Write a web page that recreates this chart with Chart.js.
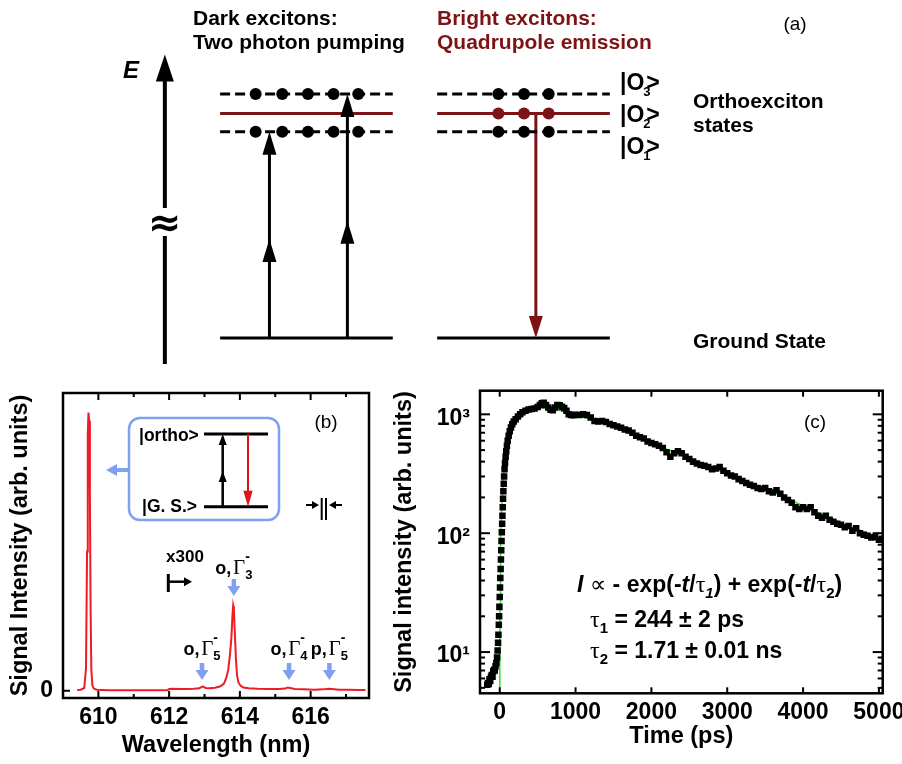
<!DOCTYPE html>
<html>
<head>
<meta charset="utf-8">
<script src="https://cdn.jsdelivr.net/npm/chart.js@4.4.1/dist/chart.umd.min.js"></script>
<style>
  html, body { margin: 0; padding: 0; background: #fff; }
  #wrap { position: relative; width: 902px; height: 764px; overflow: hidden; }
  canvas { position: absolute; }
  #cA { left: 0; top: 0; }
  #cB { left: 0; top: 375px; }
  #cC { left: 380px; top: 375px; }
</style>
</head>
<body>
<div id="wrap">
  <canvas id="cA" width="902" height="370"></canvas>
  <canvas id="cB" width="380" height="389"></canvas>
  <canvas id="cC" width="522" height="389"></canvas>
</div>
<script>
// ---------- panel (a): level scheme ----------
const levelE = [0, 213, 232, 252];        // ground, |O1>, |O2>, |O3>
const levelSub = ['', '1', '2', '3'];
const darkX = [217, 392];
const brightX = [437, 612];
const darkDots = [253, 280, 306, 332, 357];
const brightDots = [499, 525, 550];
const pumpX = [267, 346];
const pumpLevel = [1, 3];
const emitX = 537;
const axisX = 161;
const axisE = [-27, 293];

// ---------- panel (b): emission spectrum ----------
const wavelength = [609.40, 609.50, 609.60, 609.65, 609.68, 609.70, 609.72, 609.74, 609.76, 609.78,
  609.80, 609.83, 609.87, 609.95, 610.10, 610.30, 610.60, 611.00, 611.50, 611.95,
  612.00, 612.10, 612.30, 612.50, 612.70, 612.85, 612.92, 612.97, 613.03, 613.15,
  613.30, 613.45, 613.55, 613.62, 613.67, 613.72, 613.76, 613.79, 613.81, 613.83,
  613.86, 613.89, 613.92, 613.96, 614.02, 614.10, 614.25, 614.50, 614.80, 615.10,
  615.28, 615.35, 615.42, 615.55, 615.80, 616.10, 616.35, 616.50, 616.60, 616.80,
  617.10, 617.30, 617.55];
const intensity = [0.3, 0.4, 1.0, 8, 50, 92, 100, 97, 70, 30,
  8, 2, 0.8, 0.4, 0.3, 0.2, 0.2, 0.15, 0.15, 0.15,
  0.6, 0.7, 0.6, 0.6, 0.7, 0.9, 1.4, 1.5, 1.0, 0.9,
  1.1, 1.6, 2.6, 4.8, 7.5, 13, 19, 27, 30.5, 29,
  20, 11, 5.5, 3.0, 1.8, 1.2, 0.9, 0.7, 0.6, 0.6,
  0.8, 1.2, 1.0, 0.6, 0.5, 0.4, 0.5, 0.7, 0.6, 0.4,
  0.4, 0.3, 0.3];
const wlTicks = [610, 612, 614, 616];
const peakName = ['o', 'o', 'o', 'p'];
const peakSub = ['5', '3', '4', '5'];
const peakWl = [612.93, 613.83, 615.39, 616.53];

// ---------- panel (c): time-resolved signal ----------
const timePs = [-165, -155, -145, -135, -125, -115, -105, -95, -85, -75, -65, -55, -45, -35, -28, -22, -17, -12, -8, -4,
  0, 4, 8, 12, 16, 20, 24, 28, 32, 36, 40, 44, 48, 53, 58, 64, 70, 78, 86, 95,
  105, 118, 132, 148, 165, 185, 210, 240, 270, 300, 340, 380, 420, 460, 500, 530, 555, 580, 610, 640,
  670, 700, 730, 760, 790, 820, 850, 880, 910, 940, 970, 1000, 1050, 1100, 1150, 1200, 1250, 1300, 1350, 1400,
  1450, 1500, 1550, 1600, 1650, 1700, 1750, 1800, 1850, 1900, 1950, 2000, 2050, 2100, 2150, 2200, 2250, 2300, 2350, 2400,
  2450, 2500, 2550, 2600, 2650, 2700, 2750, 2800, 2850, 2900, 2950, 3000, 3050, 3100, 3150, 3200, 3250, 3300, 3350, 3400,
  3450, 3500, 3550, 3600, 3650, 3700, 3750, 3800, 3850, 3900, 3950, 4000, 4050, 4100, 4150, 4200, 4250, 4300, 4350, 4400,
  4450, 4500, 4550, 4600, 4650, 4700, 4750, 4800, 4850, 4900, 4950, 5000, 5040];
const signal = [5.3, 5.5, 5.4, 5.9, 5.7, 6.2, 6.4, 6.2, 6.9, 7.1, 7.0, 7.6, 8.1, 9.0, 10.3, 12, 14, 17, 20, 24,
  29, 35, 42, 50, 60, 72, 86, 102, 120, 140, 165, 195, 225, 260, 300, 345, 390, 440, 490, 545,
  600, 660, 720, 775, 825, 870, 910, 960, 1000, 1040, 1070, 1100, 1110, 1120, 1150, 1200, 1240, 1250, 1200, 1140,
  1090, 1080, 1140, 1200, 1190, 1160, 1130, 1070, 1000, 985, 980, 990, 985, 1000, 985, 940, 880, 870, 880, 860,
  830, 810, 790, 770, 745, 730, 700, 660, 640, 625, 590, 575, 560, 545, 520, 480, 440, 470, 490, 470,
  440, 420, 400, 385, 375, 370, 360, 345, 350, 360, 335, 320, 305, 300, 285, 275, 265, 255, 250, 240,
  235, 240, 225, 220, 230, 215, 200, 190, 180, 165, 160, 165, 160, 165, 150, 140, 135, 140, 130, 125,
  120, 118, 112, 115, 105, 110, 100, 97, 95, 92, 93, 88, 90];
const fitT = [0.5, 1, 2, 4, 8, 15, 25, 40, 60, 90, 130, 180, 250, 350, 450, 554, 700, 1000, 1500, 2000, 2500, 3000, 3500, 4000, 4500, 5000, 5050];
const fitI = [3.2, 6.4, 12.8, 25.5, 50.5, 93, 152, 234, 336, 471, 622, 772, 924, 1055, 1117, 1135, 1111, 990, 790, 575, 425, 318, 236, 170, 122, 92, 90];
const timeTicks = [0, 1000, 2000, 3000, 4000, 5000];
const decadeTicks = [10, 100, 1000];

const SANS = '"Liberation Sans", Arial, "DejaVu Sans", sans-serif';
const SERIF = '"Liberation Serif", "DejaVu Serif", serif';
const DARKRED = '#7d1315';
const BLUE = '#80a0f0';
const tickFont = { family: SANS, size: 23, weight: 'bold' };
const titleFont = { family: SANS, size: 23.5, weight: 'bold' };

// small drawing helpers
function headV(ctx, x, yTip, dir, hw, h, color) { // dir -1 up, 1 down
  ctx.beginPath();
  ctx.moveTo(x, yTip);
  ctx.lineTo(x - hw, yTip - dir * h);
  ctx.lineTo(x + hw, yTip - dir * h);
  ctx.closePath();
  ctx.fillStyle = color;
  ctx.fill();
}
function headH(ctx, xTip, y, dir, hw, h, color) { // dir -1 left, 1 right
  ctx.beginPath();
  ctx.moveTo(xTip, y);
  ctx.lineTo(xTip - dir * h, y - hw);
  ctx.lineTo(xTip - dir * h, y + hw);
  ctx.closePath();
  ctx.fillStyle = color;
  ctx.fill();
}
function line(ctx, x0, y0, x1, y1, w, color) {
  ctx.beginPath();
  ctx.moveTo(x0, y0);
  ctx.lineTo(x1, y1);
  ctx.lineWidth = w;
  ctx.strokeStyle = color;
  ctx.stroke();
}
function txt(ctx, s, x, y, font, color, align) {
  ctx.font = font;
  ctx.fillStyle = color || '#000';
  ctx.textAlign = align || 'left';
  ctx.textBaseline = 'alphabetic';
  ctx.fillText(s, x, y);
}
// parts: [text, font, dy, advance?]
function runs(ctx, x, y, parts, color) {
  ctx.fillStyle = color || '#000';
  ctx.textAlign = 'left';
  ctx.textBaseline = 'alphabetic';
  parts.forEach(p => {
    ctx.font = p[1];
    ctx.fillText(p[0], x, y + (p[2] || 0));
    if (p[3] !== false) x += ctx.measureText(p[0]).width;
  });
  return x;
}
function widthOf(ctx, parts) {
  let w = 0;
  parts.forEach(p => { ctx.font = p[1]; if (p[3] !== false) w += ctx.measureText(p[0]).width; });
  return w;
}
function ket(ctx, x, y, sub) {
  let xe = runs(ctx, x, y, [['|O', 'bold 23px ' + SANS]]);
  txt(ctx, sub, xe - 1, y + 6, 'bold 13px ' + SANS);
  txt(ctx, '>', xe + 2, y, 'bold 23px ' + SANS);
}

// ---------- panel (a) ----------
function level(x, e, color, dash) {
  return { data: [{ x: x[0], y: e }, { x: x[1], y: e }], borderColor: color, borderWidth: 3,
    borderDash: dash ? [10, 5] : [], pointRadius: 0, showLine: true };
}
function shaft(x, e0, e1, color, w) {
  return { data: [{ x: x, y: e0 }, { x: x, y: e1 }], borderColor: color, borderWidth: w || 3,
    pointRadius: 0, showLine: true };
}
const dotsBlack = [];
darkDots.forEach(x => { dotsBlack.push({ x, y: levelE[3] }, { x, y: levelE[1] }); });
brightDots.forEach(x => { dotsBlack.push({ x, y: levelE[3] }, { x, y: levelE[1] }); });
const dotsRed = brightDots.map(x => ({ x, y: levelE[2] }));

const datasetsA = [
  { data: dotsBlack, pointRadius: 6, backgroundColor: '#000', borderWidth: 0, showLine: false },
  { data: dotsRed, pointRadius: 6, backgroundColor: DARKRED, borderWidth: 0, showLine: false },
  level(darkX, levelE[3], '#000', true),
  level(darkX, levelE[2], DARKRED, false),
  level(darkX, levelE[1], '#000', true),
  level(darkX, levelE[0], '#000', false),
  level(brightX, levelE[3], '#000', true),
  level(brightX, levelE[2], DARKRED, false),
  level(brightX, levelE[1], '#000', true),
  level(brightX, levelE[0], '#000', false),
  shaft(emitX, levelE[2], levelE[0] + 10, DARKRED),
  shaft(axisX, axisE[0], axisE[1] - 15, '#000', 4)
];
pumpX.forEach((x, i) => datasetsA.push(shaft(x, levelE[0], levelE[pumpLevel[i]] - 10, '#000')));

const drawA = {
  id: 'drawA',
  afterDatasetsDraw(chart) {
    const ctx = chart.ctx;
    const px = v => chart.scales.x.getPixelForValue(v);
    const py = v => chart.scales.y.getPixelForValue(v);
    ctx.save();
    // arrow heads
    headV(ctx, px(axisX), py(axisE[1]), -1, 9, 27, '#000');
    pumpX.forEach((x, i) => {
      const e = levelE[pumpLevel[i]];
      headV(ctx, px(x), py(e), -1, 7, 23, '#000');
      headV(ctx, px(x), py(e * 0.48), -1, 7, 23, '#000');
    });
    headV(ctx, px(emitX), py(levelE[0]), 1, 7, 22, DARKRED);
    // axis break
    ctx.fillStyle = '#fff';
    ctx.fillRect(px(axisX) - 4, 208, 8, 28);
    txt(ctx, '\u2248', px(axisX), 236, 'bold 40px "DejaVu Sans", sans-serif', '#000', 'center');
    txt(ctx, 'E', 123, 78, 'italic bold 24px ' + SANS);
    // headings
    const f21 = 'bold 21px ' + SANS;
    txt(ctx, 'Dark excitons:', 193, 25, f21);
    txt(ctx, 'Two photon pumping', 193, 49, f21);
    txt(ctx, 'Bright excitons:', 437, 25, f21, DARKRED);
    txt(ctx, 'Quadrupole emission', 437, 49, f21, DARKRED);
    txt(ctx, '(a)', 795, 30, '19px ' + SANS, '#000', 'center');
    // level labels
    ket(ctx, 620, 90, levelSub[3]);
    ket(ctx, 620, 122, levelSub[2]);
    ket(ctx, 620, 154, levelSub[1]);
    txt(ctx, 'Orthoexciton', 693, 108, f21);
    txt(ctx, 'states', 693, 132, f21);
    txt(ctx, 'Ground State', 693, py(levelE[0]) + 10, f21);
    ctx.restore();
  }
};

new Chart(document.getElementById('cA'), {
  type: 'scatter',
  data: { datasets: datasetsA },
  options: {
    responsive: false, animation: false, events: [],
    layout: { padding: 0 },
    plugins: { legend: { display: false }, tooltip: { enabled: false } },
    scales: {
      x: { type: 'linear', min: 0, max: 902, display: false },
      y: { type: 'linear', min: -27, max: 343, display: false }
    }
  },
  plugins: [drawA]
});

// ---------- panel (b) ----------
const drawB = {
  id: 'drawB',
  afterDatasetsDraw(chart) {
    const ctx = chart.ctx, a = chart.chartArea;
    const xs = chart.scales.x, ys = chart.scales.y;
    ctx.save();
    ctx.lineWidth = 2.5;
    ctx.strokeStyle = '#000';
    ctx.strokeRect(a.left, a.top, a.right - a.left, a.bottom - a.top);
    for (let w = 610; w <= 617; w++) {
      const x = xs.getPixelForValue(w), len = w % 2 === 0 ? 7 : 4;
      line(ctx, x, a.bottom, x, a.bottom - len, 2, '#000');
      line(ctx, x, a.top, x, a.top + len, 2, '#000');
    }
    const y0 = ys.getPixelForValue(0);
    line(ctx, a.left, y0, a.left + 7, y0, 2, '#000');

    // inset level scheme
    ctx.beginPath();
    ctx.roundRect(129, 43, 150, 102, 11);
    ctx.lineWidth = 2.5;
    ctx.strokeStyle = BLUE;
    ctx.stroke();
    line(ctx, 129, 95, 116, 95, 4, BLUE);
    headH(ctx, 106, 95, -1, 6, 11, BLUE);
    line(ctx, 204, 59, 268, 59, 3, '#000');
    line(ctx, 204, 131.7, 268, 131.7, 3, '#000');
    txt(ctx, '|ortho>', 139, 66, 'bold 17.5px ' + SANS);
    txt(ctx, '|G. S.>', 142, 137, 'bold 17.5px ' + SANS);
    line(ctx, 222.7, 131.7, 222.7, 66, 2.5, '#000');
    headV(ctx, 222.7, 59, -1, 4, 11, '#000');
    headV(ctx, 222.7, 96, -1, 4, 11, '#000');
    line(ctx, 248, 59, 248, 118, 2, '#e0141e');
    headV(ctx, 248, 131.7, 1, 4.7, 16, '#e0141e');

    txt(ctx, '(b)', 326, 53, '19px ' + SANS, '#000', 'center');
    // resolution mark
    line(ctx, 321.7, 123, 321.7, 145, 2, '#000');
    line(ctx, 326, 123, 326, 145, 2, '#000');
    line(ctx, 306, 130, 313, 130, 2, '#000');
    headH(ctx, 319, 130, 1, 4, 7, '#000');
    line(ctx, 342, 130, 335, 130, 2, '#000');
    headH(ctx, 329, 130, -1, 4, 7, '#000');

    // x300 marker
    txt(ctx, 'x300', 185, 186.7, 'bold 17px ' + SANS, '#000', 'center');
    line(ctx, 168.3, 199, 168.3, 217, 3, '#000');
    line(ctx, 168.3, 206.7, 184, 206.7, 2.5, '#000');
    headH(ctx, 192, 206.7, 1, 4.5, 8, '#000');

    // peak labels
    peakWl.forEach((w, i) => {
      const x = xs.getPixelForValue(w);
      const high = i === 1;
      const base = high ? 199 : 280;
      const top = high ? 204 : 288;
      line(ctx, x, top, x, top + 8, 4.5, BLUE);
      headV(ctx, x, top + 17, 1, 6.5, 10, BLUE);
      const parts = [[peakName[i] + ',', 'bold 18px ' + SANS], [' ', '6px ' + SANS],
        ['\u0393', '21px ' + SERIF], ['-', 'bold 14px ' + SANS, -13, false], [peakSub[i], 'bold 13px ' + SANS, 5]];
      runs(ctx, x - widthOf(ctx, parts) / 2, base, parts);
    });
    ctx.restore();
  }
};

new Chart(document.getElementById('cB'), {
  type: 'line',
  data: { datasets: [{ data: wavelength.map((w, i) => ({ x: w, y: intensity[i] })),
    borderColor: '#ee1c25', borderWidth: 2, pointRadius: 0, tension: 0 }] },
  options: {
    responsive: false, animation: false, events: [],
    layout: { padding: { top: 18, right: 11, left: 0, bottom: 0 } },
    plugins: { legend: { display: false }, tooltip: { enabled: false } },
    scales: {
      x: {
        type: 'linear', min: 609.0, max: 617.65,
        afterBuildTicks: s => { s.ticks = wlTicks.map(v => ({ value: v })); },
        ticks: { font: tickFont, color: '#000', padding: 6, maxRotation: 0, autoSkip: false, callback: v => String(v) },
        grid: { display: false, drawTicks: false }, border: { display: false },
        title: { display: true, text: 'Wavelength (nm)', font: titleFont, color: '#000', padding: { top: 0, bottom: 4 } },
        afterFit: s => { s.height = 66; s.paddingLeft = 0; s.paddingRight = 0; }
      },
      y: {
        type: 'linear', min: -2.6, max: 107,
        afterBuildTicks: s => { s.ticks = [{ value: 0 }]; },
        ticks: { font: tickFont, color: '#000', padding: 10, callback: v => String(v) },
        grid: { display: false, drawTicks: false }, border: { display: false },
        title: { display: true, text: 'Signal Intensity (arb. units)', font: titleFont, color: '#000', padding: { top: 6, bottom: 0 } },
        afterFit: s => { s.width = 63; s.paddingTop = 0; s.paddingBottom = 0; }
      }
    }
  },
  plugins: [drawB]
});

// ---------- panel (c) ----------
const SUP = { 10: '10\u00b9', 100: '10\u00b2', 1000: '10\u00b3' };
const drawC = {
  id: 'drawC',
  afterDatasetsDraw(chart) {
    const ctx = chart.ctx, a = chart.chartArea;
    const xs = chart.scales.x, ys = chart.scales.y;
    ctx.save();
    ctx.lineWidth = 2.5;
    ctx.strokeStyle = '#000';
    ctx.strokeRect(a.left, a.top, a.right - a.left, a.bottom - a.top);
    timeTicks.forEach(t => {
      const x = xs.getPixelForValue(t);
      line(ctx, x, a.bottom, x, a.bottom - 6, 2, '#000');
      line(ctx, x, a.top, x, a.top + 6, 2, '#000');
    });
    [1, 10, 100, 1000].forEach(d => {
      for (let k = 1; k <= 9; k++) {
        const v = d * k;
        if (v < ys.min || v > ys.max) continue;
        const y = ys.getPixelForValue(v), len = k === 1 ? 10 : 5;
        line(ctx, a.left, y, a.left + len, y, 2, '#000');
        line(ctx, a.right, y, a.right - len, y, 2, '#000');
      }
    });
    txt(ctx, '(c)', 435, 53, '19px ' + SANS, '#000', 'center');
    const B = 'bold 23px ' + SANS, BI = 'italic bold 23px ' + SANS, G = '24px ' + SERIF;
    const S = 'bold 15px ' + SANS, SI = 'italic bold 15px ' + SANS;
    runs(ctx, 197, 217, [['I', BI], [' ', B], ['\u221d', '23px "DejaVu Sans", sans-serif'], [' - exp(-', B], ['t', BI], ['/', B],
      ['\u03c4', G], ['1', SI, 6], [') + exp(-', B], ['t', BI], ['/', B], ['\u03c4', G], ['2', S, 6], [')', B]]);
    runs(ctx, 210, 252, [['\u03c4', G], ['1', S, 6], [' = 244 \u00b1 2 ps', B]]);
    runs(ctx, 210, 283, [['\u03c4', G], ['2', S, 6], [' = 1.71 \u00b1 0.01 ns', B]]);
    ctx.restore();
  }
};

new Chart(document.getElementById('cC'), {
  type: 'line',
  data: { datasets: [
    { data: timePs.map((t, i) => ({ x: t, y: signal[i] })), showLine: false,
      pointStyle: 'rect', pointRadius: 4.6, backgroundColor: '#000', borderWidth: 0 },
    { data: fitT.map((t, i) => ({ x: t, y: fitI[i] })), borderColor: '#33e033', borderWidth: 1.5,
      pointRadius: 0, tension: 0 }
  ] },
  options: {
    responsive: false, animation: false, events: [],
    layout: { padding: { top: 15.7, right: 19.3, left: 0, bottom: 0 } },
    plugins: { legend: { display: false }, tooltip: { enabled: false } },
    scales: {
      x: {
        type: 'linear', min: -260, max: 5050,
        afterBuildTicks: s => { s.ticks = timeTicks.map(v => ({ value: v })); },
        ticks: { font: tickFont, color: '#000', padding: 6, maxRotation: 0, autoSkip: false, callback: v => String(v) },
        grid: { display: false, drawTicks: false }, border: { display: false },
        title: { display: true, text: 'Time (ps)', font: titleFont, color: '#000', padding: { top: 0, bottom: 13 } },
        afterFit: s => { s.height = 70.7; s.paddingLeft = 0; s.paddingRight = 0; }
      },
      y: {
        type: 'logarithmic', min: 4.5, max: 1580,
        afterBuildTicks: s => { s.ticks = decadeTicks.map(v => ({ value: v })); },
        ticks: { font: tickFont, color: '#000', padding: 10, labelOffset: 4, callback: v => SUP[v] || '' },
        grid: { display: false, drawTicks: false }, border: { display: false },
        title: { display: true, text: 'Signal intensity (arb. units)', font: titleFont, color: '#000', padding: { top: 10, bottom: 0 } },
        afterFit: s => { s.width = 100; s.paddingTop = 0; s.paddingBottom = 0; }
      }
    }
  },
  plugins: [drawC]
});
</script>
</body>
</html>
